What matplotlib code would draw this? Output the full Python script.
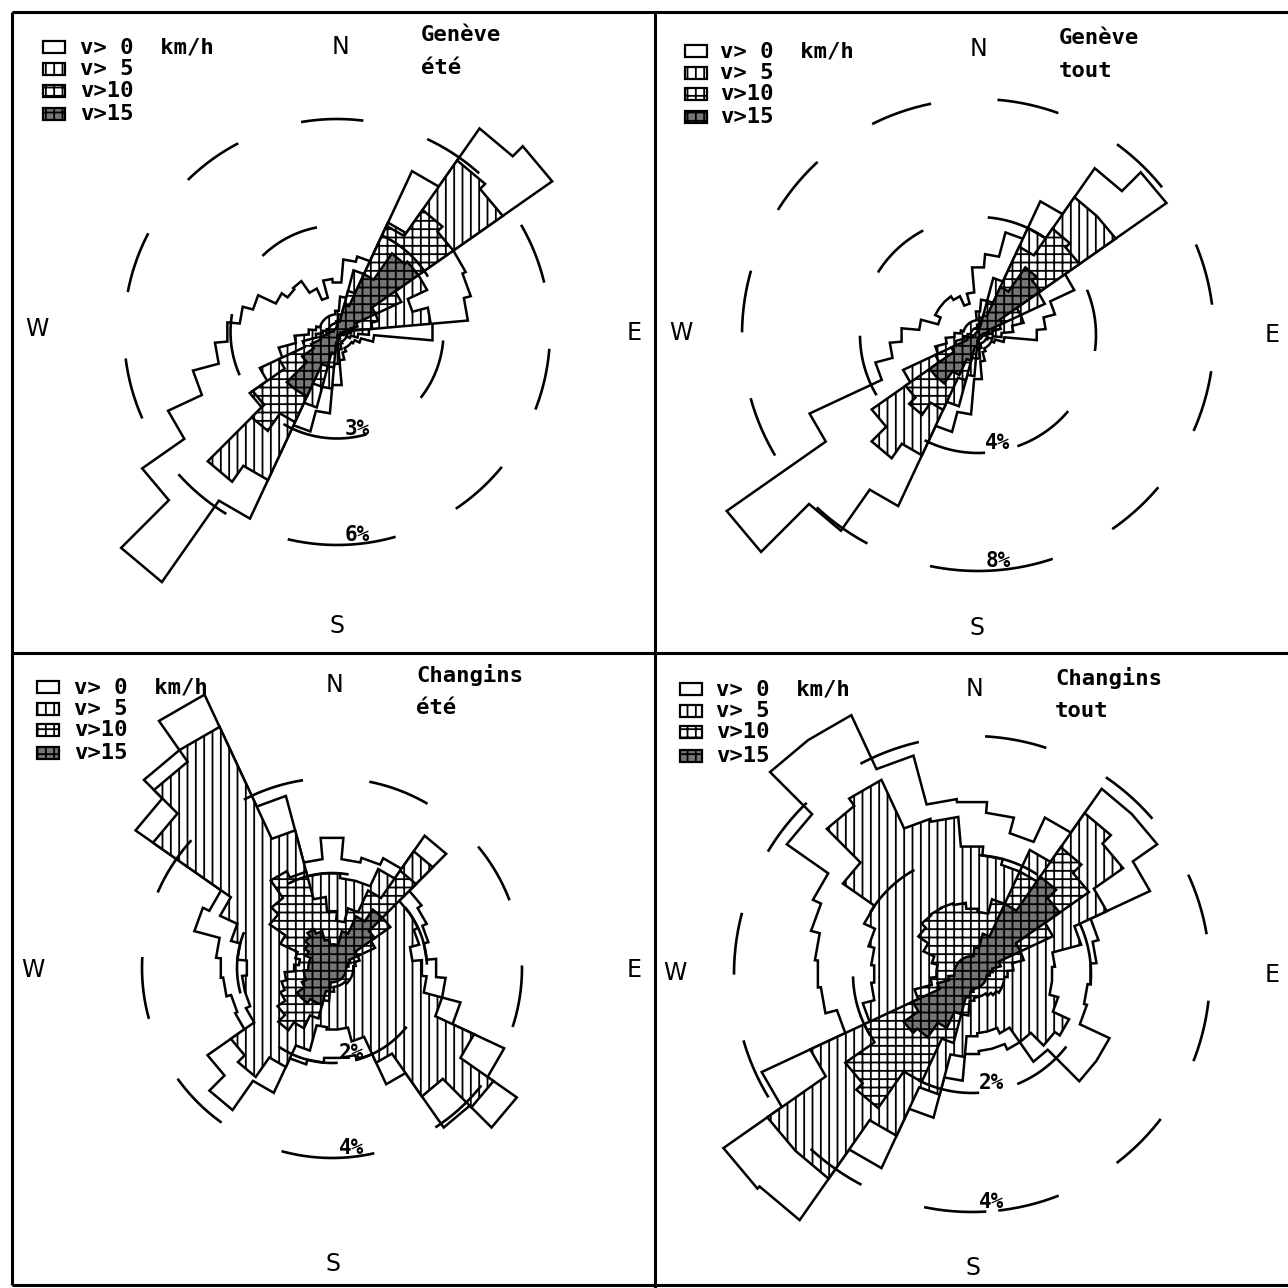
import numpy as np
import matplotlib
matplotlib.use("Agg")
import matplotlib.pyplot as plt
from matplotlib.patches import Rectangle

plt.rcParams['hatch.linewidth'] = 1.3
plt.rcParams['lines.scale_dashes'] = False
plt.rcParams['font.family'] = ['DejaVu Sans Mono', 'DejaVu Sans']

# sector centres (degrees clockwise from North), 10-degree sectors
directions = np.arange(0, 360, 10)
classes = ["v> 0  km/h", "v> 5", "v>10", "v>15"]

# ---- Genève, été (% frequency, cumulative speed classes) ----
ge_ete_v0 = [1.4, 2.05, 2.2, 5.0, 7.0, 7.4, 4.0, 3.9, 3.7, 2.7, 1.05, 0.7, 0.55, 0.5, 0.5, 0.5, 0.6, 0.8,
             1.5, 2.3, 2.9, 5.8, 8.6, 6.7, 5.25, 4.2, 3.45, 3.1, 2.75, 2.45, 1.9, 1.7, 1.75, 1.35, 1.0, 1.5]
ge_ete_v5 = [0.6, 1.0, 1.8, 3.4, 5.9, 5.7, 2.8, 2.2, 2.65, 0.9, 0.6, 0.4, 0.3, 0.3, 0.3, 0.3, 0.35, 0.5,
             0.9, 1.6, 2.2, 4.6, 5.15, 3.0, 2.4, 1.7, 1.2, 0.8, 0.6, 0.5, 0.5, 0.5, 0.5, 0.5, 0.5, 0.5]
ge_ete_v10 = [0.3, 0.5, 1.2, 3.3, 4.2, 4.0, 2.0, 1.2, 1.0, 0.4, 0.3, 0.2, 0.15, 0.15, 0.15, 0.15, 0.2, 0.25,
              0.5, 1.0, 1.6, 2.8, 3.4, 2.9, 1.8, 1.0, 0.6, 0.4, 0.3, 0.25, 0.25, 0.25, 0.25, 0.25, 0.25, 0.25]
ge_ete_v15 = [0.15, 0.3, 0.8, 1.8, 2.7, 2.8, 1.2, 0.6, 0.4, 0.2, 0.1, 0.1, 0.1, 0.1, 0.1, 0.1, 0.1, 0.1,
              0.3, 0.6, 1.0, 2.0, 2.0, 1.2, 0.8, 0.5, 0.3, 0.2, 0.1, 0.1, 0.1, 0.1, 0.1, 0.1, 0.1, 0.1]

# ---- Genève, tout ----
ge_tout_v0 = [2.3, 2.75, 3.6, 5.0, 6.9, 7.8, 3.6, 2.7, 2.3, 2.0, 0.9, 0.6, 0.5, 0.5, 0.5, 0.5, 0.6, 0.9,
              1.5, 2.7, 3.4, 6.4, 8.1, 10.4, 6.3, 3.6, 3.0, 2.6, 2.0, 1.4, 1.6, 1.6, 1.6, 1.45, 1.1, 1.45]
ge_tout_v5 = [0.8, 1.2, 2.0, 4.0, 5.7, 5.7, 2.5, 1.6, 1.2, 0.8, 0.5, 0.35, 0.3, 0.3, 0.3, 0.3, 0.3, 0.45,
              0.8, 1.4, 2.5, 4.5, 5.1, 4.4, 2.8, 1.5, 1.1, 0.8, 0.6, 0.5, 0.5, 0.5, 0.5, 0.5, 0.5, 0.5]
ge_tout_v10 = [0.35, 0.6, 1.2, 3.3, 4.4, 4.2, 1.6, 0.8, 0.5, 0.3, 0.15, 0.15, 0.15, 0.15, 0.15, 0.15, 0.15, 0.15,
               0.3, 0.8, 1.6, 2.8, 3.3, 3.0, 1.6, 0.8, 0.5, 0.35, 0.25, 0.25, 0.25, 0.25, 0.25, 0.25, 0.25, 0.25]
ge_tout_v15 = [0.15, 0.3, 0.7, 1.8, 2.8, 2.6, 0.9, 0.4, 0.2, 0.1, 0.1, 0.1, 0.1, 0.1, 0.1, 0.1, 0.1, 0.1,
               0.15, 0.4, 0.9, 1.5, 2.0, 2.0, 1.0, 0.4, 0.2, 0.1, 0.1, 0.1, 0.1, 0.1, 0.1, 0.1, 0.1, 0.1]

# ---- Changins, été ----
ch_ete_v0 = [2.75, 2.3, 2.4, 2.55, 3.4, 2.3, 2.2, 2.1, 2.0, 2.2, 2.4, 2.8, 4.0, 4.75, 4.1, 2.7, 2.0, 1.9,
             1.9, 2.0, 2.1, 2.9, 3.65, 3.2, 2.25, 2.2, 2.3, 2.35, 2.45, 3.0, 2.85, 5.05, 5.6, 6.35, 3.75, 2.3]
ch_ete_v5 = [2.0, 1.9, 1.9, 2.3, 3.0, 2.0, 2.0, 1.9, 1.7, 1.9, 2.0, 2.4, 3.3, 4.15, 3.3, 2.2, 1.6, 1.3,
             1.3, 1.25, 1.8, 2.3, 2.8, 2.6, 2.0, 1.9, 1.9, 1.8, 2.0, 2.2, 2.6, 4.6, 5.3, 5.6, 3.0, 2.0]
ch_ete_v10 = [1.2, 1.0, 1.3, 1.8, 2.5, 1.5, 1.0, 0.6, 0.5, 0.45, 0.45, 0.45, 0.45, 0.45, 0.4, 0.4, 0.4, 0.4,
              0.5, 0.7, 1.1, 1.4, 1.6, 1.4, 1.2, 1.1, 1.0, 0.8, 0.7, 0.8, 1.2, 1.6, 1.8, 2.25, 2.1, 1.5]
ch_ete_v15 = [0.5, 0.5, 0.8, 1.2, 1.5, 1.1, 0.6, 0.4, 0.35, 0.3, 0.3, 0.3, 0.3, 0.3, 0.3, 0.3, 0.3, 0.3,
              0.3, 0.5, 0.8, 0.8, 0.9, 0.9, 0.7, 0.6, 0.6, 0.5, 0.5, 0.5, 0.6, 0.7, 0.8, 0.9, 0.8, 0.6]

# ---- Changins, tout ----
ch_tout_v0 = [2.9, 2.72, 2.45, 2.9, 3.8, 3.8, 3.3, 2.2, 2.1, 2.0, 1.95, 2.0, 2.55, 2.55, 1.8, 1.4, 1.3, 1.3,
              1.35, 1.8, 2.5, 3.6, 5.05, 5.1, 3.9, 2.35, 2.55, 2.6, 2.65, 2.8, 2.95, 3.8, 4.8, 4.8, 3.8, 2.95]
ch_tout_v5 = [2.15, 2.0, 1.9, 2.3, 3.3, 3.1, 2.5, 1.9, 1.4, 1.35, 1.35, 1.5, 1.8, 1.7, 1.4, 1.1, 1.0, 1.0,
              1.05, 1.4, 2.1, 3.0, 4.2, 4.2, 3.0, 1.9, 1.7, 1.65, 1.7, 1.8, 2.0, 2.65, 3.45, 3.6, 2.7, 2.65]
ch_tout_v10 = [1.1, 1.05, 1.3, 1.9, 2.6, 2.4, 1.5, 0.9, 0.7, 0.6, 0.55, 0.55, 0.55, 0.5, 0.45, 0.4, 0.4, 0.4,
               0.45, 0.7, 1.2, 2.0, 2.75, 2.6, 2.0, 1.0, 0.7, 0.6, 0.6, 0.7, 0.9, 1.1, 1.2, 1.22, 1.23, 1.2]
ch_tout_v15 = [0.3, 0.45, 0.7, 1.3, 2.0, 1.8, 0.9, 0.5, 0.35, 0.3, 0.25, 0.25, 0.25, 0.25, 0.25, 0.25, 0.25, 0.25,
               0.3, 0.4, 0.7, 1.0, 1.3, 1.4, 1.1, 0.6, 0.4, 0.3, 0.3, 0.3, 0.3, 0.3, 0.3, 0.3, 0.3, 0.3]

station_names = ["Genève", "Genève", "Changins", "Changins"]
season_names = ["été", "tout", "été", "tout"]
ring_values = [[3, 6], [4, 8], [2, 4], [2, 4]]

W = H = 1288
fig = plt.figure(figsize=(12.88, 12.88), dpi=100)
fig.patch.set_facecolor('white')

bg = fig.add_axes([0, 0, 1, 1])
bg.set_xlim(0, W)
bg.set_ylim(H, 0)
bg.axis('off')

# panel frames
frame_kw = dict(color='black', lw=2.2, solid_capstyle='butt')
bg.plot([12, W], [12, 12], **frame_kw)
bg.plot([12, 12], [12, 1285], **frame_kw)
bg.plot([655, 655], [12, H], **frame_kw)
bg.plot([12, W], [653, 653], **frame_kw)
bg.plot([12, W], [1285, 1285], **frame_kw)

styles = [dict(fc='white', hatch=None),
          dict(fc='white', hatch='||'),
          dict(fc='white', hatch='++'),
          dict(fc='#767676', hatch='++')]

# panel layout (pixel positions of rose centre and scale in px per %)
panels = [
    dict(cx=337, cy=332, ppp=35.5, data=[ge_ete_v0, ge_ete_v5, ge_ete_v10, ge_ete_v15],
         leg_x=43, leg_tx=80, leg_y=[47, 69, 91, 114], title=(421, 35, 68),
         nsew=[(341, 47), (337, 626), (37, 329), (634, 333)]),
    dict(cx=978, cy=335, ppp=29.5, data=[ge_tout_v0, ge_tout_v5, ge_tout_v10, ge_tout_v15],
         leg_x=685, leg_tx=720, leg_y=[51, 73, 94, 117], title=(1059, 38, 71),
         nsew=[(979, 49), (977, 628), (681, 333), (1272, 335)]),
    dict(cx=332, cy=968, ppp=47.5, data=[ch_ete_v0, ch_ete_v5, ch_ete_v10, ch_ete_v15],
         leg_x=37, leg_tx=74, leg_y=[687, 709, 730, 753], title=(416, 675, 708),
         nsew=[(335, 685), (333, 1264), (33, 970), (634, 970)]),
    dict(cx=972, cy=974, ppp=59.5, data=[ch_tout_v0, ch_tout_v5, ch_tout_v10, ch_tout_v15],
         leg_x=680, leg_tx=716, leg_y=[689, 711, 732, 756], title=(1055, 678, 711),
         nsew=[(975, 689), (973, 1268), (675, 973), (1272, 975)]),
]


def outline(vals):
    th, r = [], []
    for d, v in zip(directions, vals):
        th += [np.deg2rad(d - 5), np.deg2rad(d + 5)]
        r += [v, v]
    return th, r


for i, p in enumerate(panels):
    cx, cy, ppp = p['cx'], p['cy'], p['ppp']
    # texts
    for lab, (x, y) in zip(['N', 'S', 'W', 'E'], p['nsew']):
        bg.text(x, y, lab, ha='center', va='center', fontsize=17, family='DejaVu Sans')
    tx, ty1, ty2 = p['title']
    bg.text(tx, ty1, station_names[i], ha='left', va='center', fontsize=16, weight='bold')
    bg.text(tx, ty2, season_names[i], ha='left', va='center', fontsize=16, weight='bold')
    for k, (lab, ly) in enumerate(zip(classes, p['leg_y'])):
        st = styles[k]
        bg.add_patch(Rectangle((p['leg_x'], ly - 6), 22, 12, facecolor=st['fc'],
                               edgecolor='black', lw=1.6, hatch=st['hatch']))
        bg.text(p['leg_tx'], ly, lab, ha='left', va='center', fontsize=16, weight='bold')

    # rose
    h = 335
    ax = fig.add_axes([(cx - h) / W, 1 - (cy + h) / H, 2 * h / W, 2 * h / H], projection='polar')
    ax.set_theta_zero_location('N')
    ax.set_theta_direction(-1)
    ax.set_ylim(0, h / ppp)
    ax.axis('off')
    ax.patch.set_visible(False)
    for k, vals in enumerate(p['data']):
        st = styles[k]
        th, r = outline(vals)
        ax.fill(th, r, facecolor=st['fc'], edgecolor='black', linewidth=1.8,
                hatch=st['hatch'], zorder=2 + k, clip_on=False)
    for ring in ring_values[i]:
        t = np.linspace(np.pi - 0.06, np.pi - 0.06 + 2 * np.pi, 721)
        ax.plot(t, np.full_like(t, ring), color='black', lw=1.9, dashes=(45, 48),
                zorder=10, clip_on=False)

# ring labels on top of the roses
top = fig.add_axes([0, 0, 1, 1])
top.set_xlim(0, W)
top.set_ylim(H, 0)
top.axis('off')
top.patch.set_visible(False)
for i, p in enumerate(panels):
    for ring in ring_values[i]:
        top.text(p['cx'] + 20, p['cy'] + ring * p['ppp'] - 10, f"{ring}%", ha='center',
                 va='center', fontsize=15, weight='bold')

fig.savefig('out.png', dpi=100, facecolor='white')
